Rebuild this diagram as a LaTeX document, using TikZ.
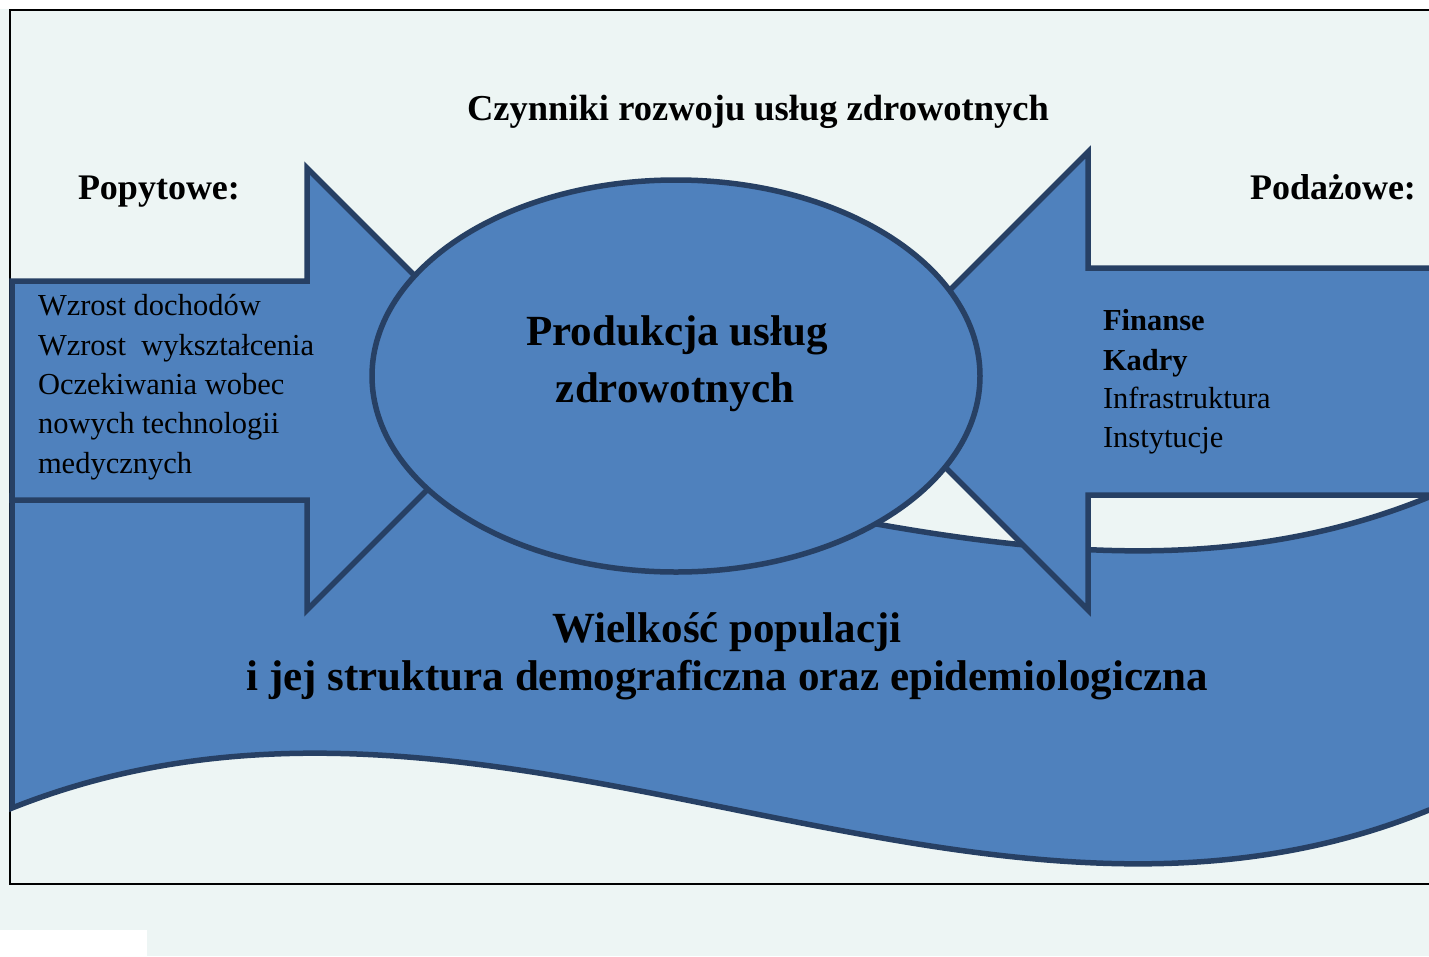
\documentclass[tikz,border=0pt]{standalone}
\usepackage{fontspec}
\setmainfont{Liberation Serif}
\usetikzlibrary{shapes.geometric}
\definecolor{bgc}{RGB}{237,245,244}
\definecolor{fillc}{RGB}{79,129,189}
\definecolor{strokec}{RGB}{39,64,100}
\tikzset{
  blueshape/.style={fill=fillc, draw=strokec, line width=5.5pt, line join=miter},
  txt/.style={inner sep=0pt, outer sep=0pt, text=black},
  ttl/.style={txt, font=\fontsize{36.5}{40}\selectfont\bfseries},
  hdr/.style={txt, font=\fontsize{36}{40}\selectfont\bfseries},
  itm/.style={txt, anchor=base west, font=\fontsize{30.5}{34}\selectfont},
  itmb/.style={txt, anchor=base west, font=\fontsize{30.5}{34}\selectfont\bfseries},
  big/.style={txt, anchor=base, font=\fontsize{43}{48}\selectfont\bfseries},
}
\begin{document}
\begin{tikzpicture}[x=1pt,y=-1pt]
\useasboundingbox (0,0) rectangle (1429,956);
\clip (0,0) rectangle (1429,956);
% background
\fill[bgc] (0,0) rectangle (1429,956);
\fill[white] (0,0) rectangle (1429,9);
\fill[white] (0,930) rectangle (147,956);
% frame
\draw[black, line width=2pt] (10,10) rectangle (1460,884);
% wave banner
\draw[blueshape] (12,495) .. controls (490,305) and (970,685) .. (1429,497)
  -- (1460,497) -- (1460,810) -- (1429,810)
  .. controls (970,998) and (490,618) .. (12,808) -- cycle;
% left arrow
\draw[blueshape] (12,281) -- (307,281) -- (307,168) -- (528,389) -- (307,610) -- (307,500) -- (12,500) -- cycle;
% right arrow
\draw[blueshape] (1460,268) -- (1088,268) -- (1088,152) -- (859,381) -- (1088,610) -- (1088,495) -- (1460,495) -- cycle;
% central ellipse
\node[blueshape, ellipse, minimum width=608pt, minimum height=392pt, inner sep=0pt] (prod) at (676,376) {};
% texts
\node[ttl, anchor=base] (title) at (758,120) {Czynniki rozwoju usług zdrowotnych};
\node[hdr, anchor=base west] (popyt) at (78,199) {Popytowe:};
\node[hdr, anchor=base west] (podaz) at (1250,199) {Podażowe:};
\node[itm] (l1) at (38,315) {Wzrost dochodów};
\node[itm] (l2) at (38,355) {Wzrost\ \ wykształcenia};
\node[itm] (l3) at (38,394) {Oczekiwania wobec};
\node[itm] (l4) at (38,433) {nowych technologii};
\node[itm] (l5) at (38,473) {medycznych};
\node[itmb] (r1) at (1103,330) {Finanse};
\node[itmb] (r2) at (1103,370) {Kadry};
\node[itm] (r3) at (1103,408) {Infrastruktura};
\node[itm] (r4) at (1103,447) {Instytucje};
\node[big] (p1) at (677,345) {Produkcja usług};
\node[big] (p2) at (675,402) {zdrowotnych};
\node[big] (w1) at (727,642) {Wielkość populacji};
\node[big] (w2) at (727,690) {i jej struktura demograficzna oraz epidemiologiczna};
\end{tikzpicture}
\end{document}
